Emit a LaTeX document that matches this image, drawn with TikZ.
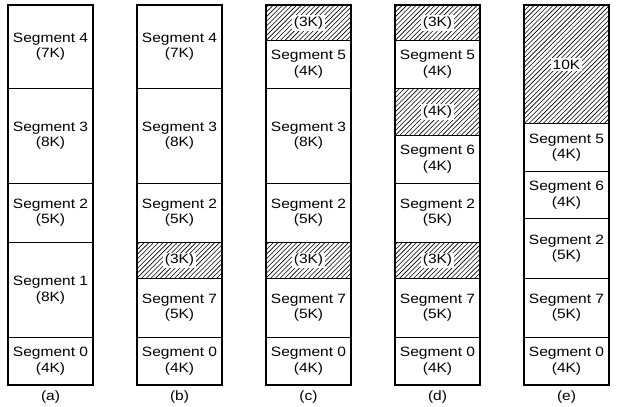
\documentclass[tikz,border=0pt]{standalone}
\usepackage{fontspec}
\newfontfamily\segfont[FakeStretch=1.15]{Liberation Sans}
\usetikzlibrary{positioning}

\tikzset{
  seg/.style={draw, line width=1.2pt, minimum width=85pt, inner sep=0pt, outer sep=0pt,
    align=center, font=\segfont\fontsize{13.5}{15.5}\selectfont},
  kb/.style={minimum height=#1*11.875pt},
  hole/.style={seg, path picture={
      \foreach \i in {-28,...,19}
        \draw[line width=0.6pt] ([xshift=\i*4.7pt]path picture bounding box.south west) -- ++(130pt,130pt);
    }},
  colname/.style={inner sep=0pt, font=\segfont\fontsize{13.5}{15.5}\selectfont},
}
\newcommand{\gap}[1]{{\setlength{\fboxsep}{1.5pt}\colorbox{white}{#1}}}

\begin{document}
\begin{tikzpicture}
  \useasboundingbox (0,0) rectangle (619pt,407pt);

  % (a)
  \node[seg, kb=7, anchor=north] (a4) at (50.5pt,402pt) {Segment 4\\(7K)};
  \node[seg, kb=8, below=0pt of a4] (a3) {Segment 3\\(8K)};
  \node[seg, kb=5, below=0pt of a3] (a2) {Segment 2\\(5K)};
  \node[seg, kb=8, below=0pt of a2] (a1) {Segment 1\\(8K)};
  \node[seg, kb=4, below=0pt of a1] (a0) {Segment 0\\(4K)};
  \node[colname, below=6pt of a0] (la) {(a)};

  % (b)
  \node[seg, kb=7, anchor=north] (b4) at (179.5pt,402pt) {Segment 4\\(7K)};
  \node[seg, kb=8, below=0pt of b4] (b3) {Segment 3\\(8K)};
  \node[seg, kb=5, below=0pt of b3] (b2) {Segment 2\\(5K)};
  \node[hole, kb=3, below=0pt of b2] (bh) {\gap{(3K)}};
  \node[seg, kb=5, below=0pt of bh] (b7) {Segment 7\\(5K)};
  \node[seg, kb=4, below=0pt of b7] (b0) {Segment 0\\(4K)};
  \node[colname, below=6pt of b0] (lb) {(b)};

  % (c)
  \node[hole, kb=3, anchor=north] (ch1) at (308.5pt,402pt) {\gap{(3K)}};
  \node[seg, kb=4, below=0pt of ch1] (c5) {Segment 5\\(4K)};
  \node[seg, kb=8, below=0pt of c5] (c3) {Segment 3\\(8K)};
  \node[seg, kb=5, below=0pt of c3] (c2) {Segment 2\\(5K)};
  \node[hole, kb=3, below=0pt of c2] (ch2) {\gap{(3K)}};
  \node[seg, kb=5, below=0pt of ch2] (c7) {Segment 7\\(5K)};
  \node[seg, kb=4, below=0pt of c7] (c0) {Segment 0\\(4K)};
  \node[colname, below=6pt of c0] (lc) {(c)};

  % (d)
  \node[hole, kb=3, anchor=north] (dh1) at (437.5pt,402pt) {\gap{(3K)}};
  \node[seg, kb=4, below=0pt of dh1] (d5) {Segment 5\\(4K)};
  \node[hole, kb=4, below=0pt of d5] (dh2) {\gap{(4K)}};
  \node[seg, kb=4, below=0pt of dh2] (d6) {Segment 6\\(4K)};
  \node[seg, kb=5, below=0pt of d6] (d2) {Segment 2\\(5K)};
  \node[hole, kb=3, below=0pt of d2] (dh3) {\gap{(3K)}};
  \node[seg, kb=5, below=0pt of dh3] (d7) {Segment 7\\(5K)};
  \node[seg, kb=4, below=0pt of d7] (d0) {Segment 0\\(4K)};
  \node[colname, below=6pt of d0] (ld) {(d)};

  % (e)
  \node[hole, kb=10, anchor=north] (eh) at (566.5pt,402pt) {\gap{10K}};
  \node[seg, kb=4, below=0pt of eh] (e5) {Segment 5\\(4K)};
  \node[seg, kb=4, below=0pt of e5] (e6) {Segment 6\\(4K)};
  \node[seg, kb=5, below=0pt of e6] (e2) {Segment 2\\(5K)};
  \node[seg, kb=5, below=0pt of e2] (e7) {Segment 7\\(5K)};
  \node[seg, kb=4, below=0pt of e7] (e0) {Segment 0\\(4K)};
  \node[colname, below=6pt of e0] (le) {(e)};
\end{tikzpicture}
\end{document}
